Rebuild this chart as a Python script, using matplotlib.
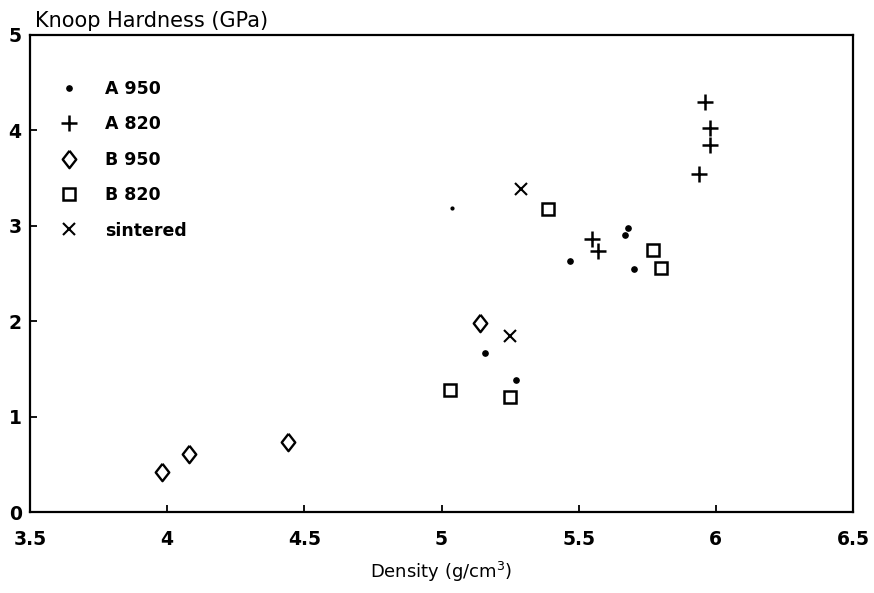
import numpy as np
import matplotlib
matplotlib.use('Agg')
import matplotlib.pyplot as plt

# Knoop hardness vs. density for the different sample series

a950_x = [5.04, 5.47, 5.68, 5.67, 5.70, 5.16, 5.27]
a950_y = [3.19, 2.63, 2.98, 2.90, 2.55, 1.67, 1.38]
a950_s = [2.0, 3.8, 3.8, 3.8, 3.8, 3.8, 3.8]

a820_x = [5.96, 5.98, 5.98, 5.94, 5.55, 5.57]
a820_y = [4.30, 4.02, 3.85, 3.54, 2.86, 2.74]

b950_x = [3.98, 4.08, 4.44, 5.14]
b950_y = [0.42, 0.61, 0.73, 1.98]

b820_x = [5.39, 5.77, 5.80, 5.03, 5.25]
b820_y = [3.18, 2.75, 2.56, 1.28, 1.21]

sint_x = [5.29, 5.25]
sint_y = [3.39, 1.85]

xticks = [3.5, 4, 4.5, 5, 5.5, 6, 6.5]
xticklabels = ['3.5', '4', '4.5', '5', '5.5', '6', '6.5']
yticks = [0, 1, 2, 3, 4, 5]

plt.rcParams['font.family'] = ['DejaVu Sans']

# slightly squat diamond
diamond = [(0, 1), (0.78, 0), (0, -1), (-0.78, 0), (0, 1)]

fig = plt.figure(figsize=(8.74, 5.93), dpi=100)
ax = fig.add_axes([30/874, 1-512/593, 823/874, 477/593])

k = dict(color='black', linestyle='none')
# first A 950 point is drawn as a much smaller dot
ax.plot(a950_x[1:], a950_y[1:], marker='o', markersize=a950_s[1], label='A 950', **k)
ax.plot(a950_x[:1], a950_y[:1], marker='o', markersize=a950_s[0], **k)
ax.plot(a820_x, a820_y, marker='+', markersize=11, markeredgewidth=1.8, label='A 820', **k)
ax.plot(b950_x, b950_y, marker=diamond, markersize=12.5, markeredgewidth=1.7,
        markerfacecolor='none', label='B 950', **k)
ax.plot(b820_x, b820_y, marker='s', markersize=9.2, markeredgewidth=1.8,
        markerfacecolor='none', label='B 820', **k)
ax.plot(sint_x, sint_y, marker='x', markersize=8.5, markeredgewidth=1.5, label='sintered', **k)

ax.set_xlim(3.5, 6.5)
ax.set_ylim(0, 5)
ax.set_xticks(xticks)
ax.set_xticklabels(xticklabels)
ax.set_yticks(yticks)
for s in ax.spines.values():
    s.set_linewidth(1.6)

ax.tick_params(axis='both', direction='in', length=5, width=1.3,
               labelsize=13.5)
ax.tick_params(axis='x', pad=13)
ax.tick_params(axis='y', pad=6)
for lab in ax.get_xticklabels() + ax.get_yticklabels():
    lab.set_fontweight('bold')

ax.text(0.006, 1.017, 'Knoop Hardness (GPa)', transform=ax.transAxes,
        fontsize=15, ha='left', va='baseline')
ax.set_xlabel('Density (g/cm$^3$)', fontsize=13, labelpad=8)

leg = ax.legend(loc='upper left', frameon=False, fontsize=12.5,
                bbox_to_anchor=(0.028, 0.92), labelspacing=1.0,
                handletextpad=1.6, handlelength=1.0, borderaxespad=0)
for t in leg.get_texts():
    t.set_fontweight('bold')

fig.savefig('out.png', dpi=100)
